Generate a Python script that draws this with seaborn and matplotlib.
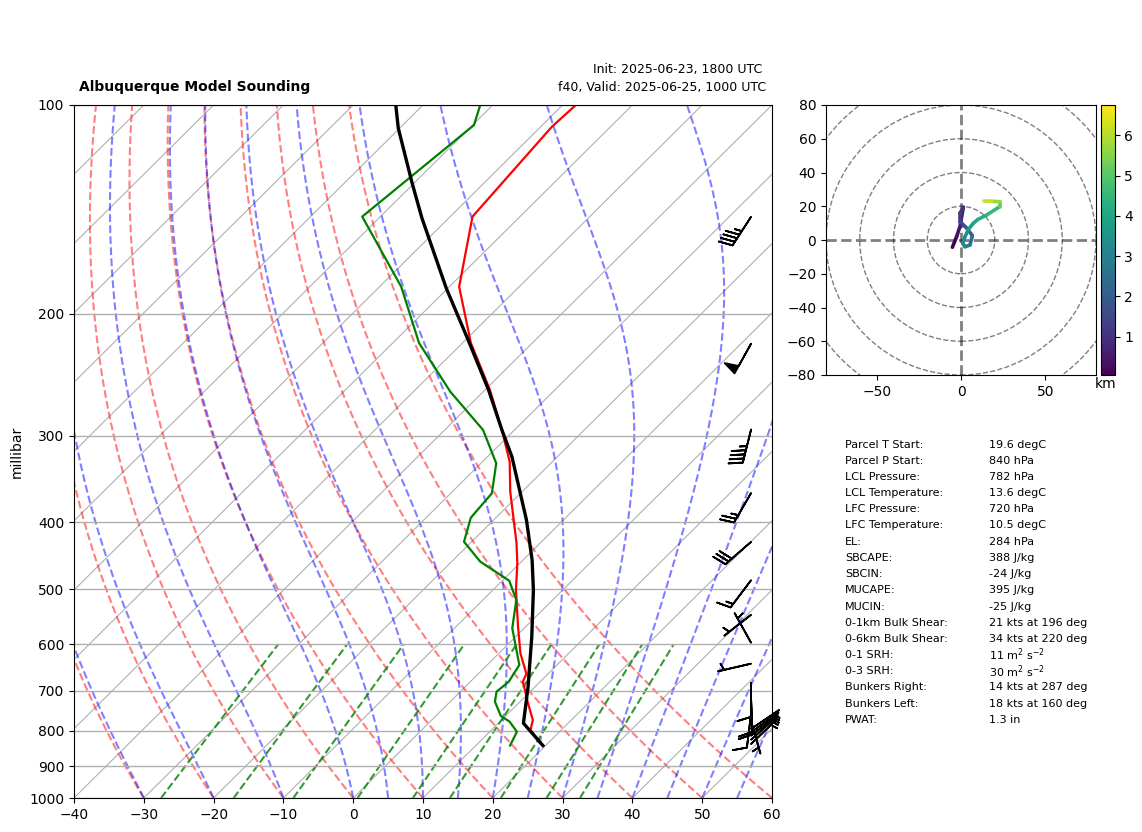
import matplotlib
matplotlib.use("Agg")
import matplotlib.pyplot as plt
import numpy as np
import pandas as pd
import seaborn as sns
from matplotlib.collections import LineCollection
from matplotlib.patches import Circle
from matplotlib.ticker import NullFormatter, ScalarFormatter

# sounding
temp_p = [100, 107.5, 144.9, 182.9, 220.5, 257.7, 294.4, 327.2, 361.4, 428.6, 458, 501, 566, 618, 662, 679, 729, 772, 798, 840]
temp_c = [-68.1, -68.4, -66.8, -58.6, -48.8, -39.3, -31.8, -26.1, -21.7, -13.4, -10.4, -6.7, -1.1, 3.05, 6.9, 7.5, 11.3, 14.5, 15.6, 19.6]

dewp_p = [100, 106.9, 144.9, 182.9, 220.6, 259.3, 294.4, 328.9, 363.4, 394, 426.8, 456, 485.8, 518, 569, 642.7, 679.4, 702.5, 726, 761.3, 776, 802.5, 840]
dewp_c = [-81.8, -79.8, -82.6, -66.9, -56.2, -44.7, -34.5, -27.8, -24.1, -23.6, -21.1, -15.9, -9.0, -5.2, -1.7, 4.6, 5.5, 5.2, 6.4, 9.3, 11.4, 13.9, 14.9]

parcel_p = [100, 108, 129.6, 145.7, 183.9, 218.4, 257.7, 294.4, 321.8, 397, 453.6, 501, 585, 691, 780, 840]
parcel_c = [-93.9, -90.2, -80.3, -73.8, -60.2, -49.6, -39.5, -31.8, -26.5, -15.3, -8.7, -4.2, 2.3, 9.0, 13.6, 19.6]

# wind barbs
barb_p = [145, 221, 294, 363, 427, 485, 544, 597, 640, 682, 717, 723, 756, 774, 795, 804, 813, 824, 836]
barb_spd = [45, 50, 45, 25, 30, 15, 5, 5, 5, 10, 10, 10, 10, 5, 5, 5, 5, 5, 5]
barb_dir = [213, 209, 194, 210, 229, 217, 232, 331, 257, 180, 178, 178, 187, 164, 56, 54, 52, 48, 46]

# hodograph
hodo_u = [-5.1, -2.6, -0.6, 1.4, -0.6, -0.6, 3.4, 6.7, 5.3, 2.4, 1.0, 2.4, 4.5, 7.3, 10, 15.2, 23, 23, 18, 13.6]
hodo_v = [-4.3, 2, 8, 19.4, 15.8, 10.9, 7, 2.6, -3, -4, -2, 2, 6.5, 9.9, 12.2, 14.8, 19.8, 22.7, 23, 23.1]
hodo_h = [0.05, 0.3, 0.6, 1.0, 1.2, 1.5, 2.0, 2.4, 2.8, 3.0, 3.2, 3.4, 3.7, 4.0, 4.2, 4.5, 5.2, 5.7, 6.2, 6.75]

# parameter table
table_labels = ["Parcel T Start:", "Parcel P Start:", "LCL Pressure:", "LCL Temperature:", "LFC Pressure:",
                "LFC Temperature:", "EL:", "SBCAPE:", "SBCIN:", "MUCAPE:", "MUCIN:", "0-1km Bulk Shear:",
                "0-6km Bulk Shear:", "0-1 SRH:", "0-3 SRH:", "Bunkers Right:", "Bunkers Left:", "PWAT:"]
table_values = ["19.6 degC", "840 hPa", "782 hPa", "13.6 degC", "720 hPa", "10.5 degC", "284 hPa", "388 J/kg",
                "-24 J/kg", "395 J/kg", "-25 J/kg", "21 kts at 196 deg", "34 kts at 220 deg",
                "11 m$^2$ s$^{-2}$", "30 m$^2$ s$^{-2}$", "14 kts at 287 deg", "18 kts at 160 deg", "1.3 in"]

p_ticks = [100, 200, 300, 400, 500, 600, 700, 800, 900, 1000]
dry_t0 = np.arange(-30, 70, 10)
moist_t0 = [-30, -20, -10, 0, 5, 10, 15, 20, 25, 30, 35, 40, 45, 50, 55]
mix_ratio = [0.4, 1, 2, 4, 7, 10, 16, 24, 32]  # g/kg

W, H = 1142, 832
SKEW = 100.0  # skew in axes coords: one axes width (100 degC) over the decade of pressure


def skew_x(t, p):
    return np.asarray(t, dtype=float) + SKEW * np.log10(1000.0 / np.asarray(p, dtype=float))


def es_hpa(t_c):
    return 6.112 * np.exp(17.67 * t_c / (t_c + 243.5))


def moist_adiabat(t0, p):
    # stepwise integration of the saturated lapse rate from 1000 hPa
    rd, cp, lv, eps = 287.05, 1005.0, 2.49e6, 0.622
    out = [t0 + 273.15]
    for p0, p1 in zip(p[:-1], p[1:]):
        tk = out[-1]
        rs = eps * es_hpa(tk - 273.15) / (p0 - es_hpa(tk - 273.15))
        dt = (rd * tk + lv * rs) / (cp + lv**2 * rs * eps / (rd * tk**2)) / p0
        out.append(tk + dt * (p1 - p0))
    return np.array(out) - 273.15


def sounding_line(ax, t, p, color, lw):
    df = pd.DataFrame({"x": skew_x(t, p), "p": p})
    sns.lineplot(data=df, x="x", y="p", sort=False, estimator=None, color=color, linewidth=lw, ax=ax)


fig = plt.figure(figsize=(W / 100, H / 100), dpi=100)
ax = fig.add_axes([74 / W, 1 - 798 / H, 698 / W, 693 / H])

sounding_line(ax, temp_c, temp_p, "r", 1.6)
sounding_line(ax, dewp_c, dewp_p, "g", 1.6)
sounding_line(ax, parcel_c, parcel_p, "k", 2.4)

p_line = np.linspace(1000, 100, 400)
for t in np.arange(-140, 70, 10):
    ax.plot(skew_x([t, t], [1000, 100]), [1000, 100], color="#b0b0b0", lw=0.8, zorder=1)
for t0 in dry_t0:
    t_dry = (t0 + 273.15) * (p_line / 1000.0) ** 0.2857 - 273.15
    ax.plot(skew_x(t_dry, p_line), p_line, color="r", ls="--", lw=1.5, alpha=0.5, zorder=1)
for t0 in moist_t0:
    ax.plot(skew_x(moist_adiabat(t0, p_line), p_line), p_line, color="b", ls="--", lw=1.5, alpha=0.5, zorder=1)
p_mix = np.array([1000.0, 600.0])
for w in mix_ratio:
    e = p_mix * (w / 1000) / (0.622 + w / 1000)
    td = 243.5 * np.log(e / 6.112) / (17.67 - np.log(e / 6.112))
    ax.plot(skew_x(td, p_mix), p_mix, color="g", ls="--", lw=1.5, alpha=0.8, zorder=1)

# wind barbs in a column near the right edge, x in axes fraction
spd = np.array(barb_spd, dtype=float)
rad = np.deg2rad(barb_dir)
ax.barbs(np.full(len(barb_p), 0.97), barb_p, -spd * np.sin(rad), -spd * np.cos(rad),
         transform=ax.get_yaxis_transform(), clip_on=False, length=7, linewidth=1.3, color="k", zorder=5)

ax.set_yscale("log")
ax.set_ylim(1000, 100)
ax.set_xlim(-40, 60)
ax.set_yticks(p_ticks)
ax.yaxis.set_major_formatter(ScalarFormatter())
ax.yaxis.set_minor_formatter(NullFormatter())
ax.minorticks_off()
ax.set_xticks(np.arange(-40, 70, 10))
ax.grid(True, axis="y", color="#b0b0b0", lw=1, zorder=1)
ax.set_xlabel("")
ax.set_ylabel("millibar")
ax.yaxis.set_label_coords(-50 / 698, 0.5)
ax.tick_params(labelsize=10)

fig.text(79 / W, 1 - 87.5 / H, "Albuquerque Model Sounding", fontsize=10, fontweight="bold", va="center", ha="left")
fig.text(762 / W, 1 - 70 / H, "Init: 2025-06-23, 1800 UTC", fontsize=9, va="center", ha="right")
fig.text(766 / W, 1 - 87.5 / H, "f40, Valid: 2025-06-25, 1000 UTC", fontsize=9, va="center", ha="right")

# hodograph
hax = fig.add_axes([826 / W, 1 - 375 / H, 270 / W, 270 / H])
for r in [20, 40, 60, 80, 100]:
    hax.add_patch(Circle((0, 0), r, fill=False, ls="--", ec="k", alpha=0.5, lw=1))
hax.axhline(0, color="k", alpha=0.5, ls="--", lw=2)
hax.axvline(0, color="k", alpha=0.5, ls="--", lw=2)
pts = np.column_stack([hodo_u, hodo_v])
segs = np.stack([pts[:-1], pts[1:]], axis=1)
lc = LineCollection(segs, cmap="viridis", linewidth=2.6, capstyle="round")
lc.set_array(np.array(hodo_h[:-1]))
lc.set_clim(0.05, 6.75)
hax.add_collection(lc)
hax.set_xlim(-80, 80)
hax.set_ylim(-80, 80)
hax.set_xticks([-50, 0, 50])
hax.set_yticks(np.arange(-80, 100, 20))
hax.tick_params(labelsize=10)

cax = fig.add_axes([1100.5 / W, 1 - 375 / H, 14 / W, 270 / H])
fig.colorbar(lc, cax=cax, ticks=[1, 2, 3, 4, 5, 6])
cax.tick_params(labelsize=10)
fig.text(1106 / W, 1 - 384 / H, "km", fontsize=10, va="center", ha="center")

for i, (lab, val) in enumerate(zip(table_labels, table_values)):
    y = 444.5 + i * 16.2
    fig.text(845 / W, 1 - y / H, lab, fontsize=8, va="center", ha="left")
    fig.text(989 / W, 1 - y / H, val, fontsize=8, va="center", ha="left")

fig.savefig("out.png", dpi=100)
